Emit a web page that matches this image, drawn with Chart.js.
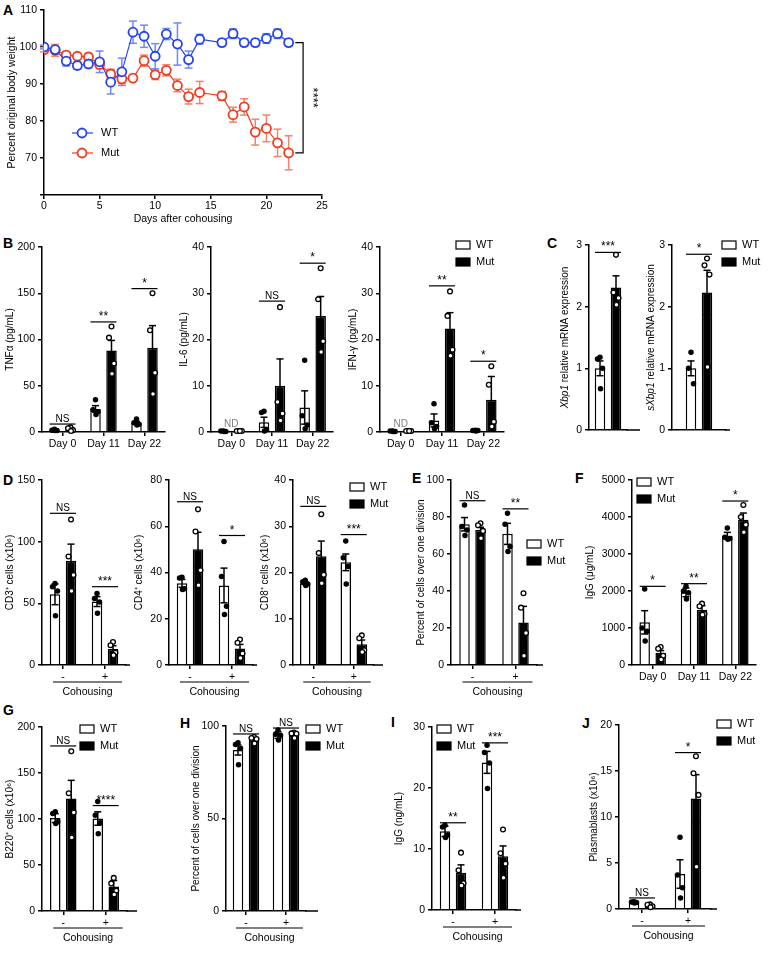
<!DOCTYPE html>
<html>
<head>
<meta charset="utf-8">
<title>Cohousing figure</title>
<script src="https://cdn.jsdelivr.net/npm/chart.js@4.4.1/dist/chart.umd.min.js"></script>
<style>
  html, body { margin: 0; padding: 0; background: #fff; }
  body { position: relative; width: 768px; height: 956px; overflow: hidden; font-family: "Liberation Sans", Arial, Helvetica, sans-serif; }
  canvas { position: absolute; }
  .tag { position: absolute; font-weight: bold; font-size: 14px; line-height: 14px; color: #000; }
</style>
</head>
<body>
<div class="tag" style="left:3px;top:3px">A</div>
<div class="tag" style="left:3px;top:236px">B</div>
<div class="tag" style="left:547px;top:236px">C</div>
<div class="tag" style="left:3px;top:473px">D</div>
<div class="tag" style="left:412px;top:471px">E</div>
<div class="tag" style="left:575px;top:471px">F</div>
<div class="tag" style="left:3px;top:703px">G</div>
<div class="tag" style="left:180px;top:716px">H</div>
<div class="tag" style="left:391px;top:715px">I</div>
<div class="tag" style="left:582px;top:716px">J</div>

<script>
// ---- A : body weight ----
const days = [0, 1, 2, 3, 4, 5, 6, 7, 8, 9, 10, 11, 12, 13, 14, 16, 17, 18, 19, 20, 21, 22];
const wtWeight = [100, 99.3, 96.2, 95.0, 95.4, 96.0, 90.5, 93.3, 104.0, 102.9, 97.5, 103.5, 100.8, 96.6, 102.1, 101.2, 103.6, 101.2, 101.2, 102.3, 103.6, 101.2];
const wtWeightErr = [0.5, 0.6, 1.3, 1.0, 1.0, 2.9, 3.2, 3.7, 3.0, 3.0, 3.4, 1.5, 5.7, 2.3, 1.3, 0.9, 1.3, 0.9, 0.9, 1.3, 1.3, 0.9];
const mutWeight = [99.3, 99.1, 97.8, 97.5, 97.3, 95.3, 92.7, 91.4, 91.6, 96.3, 92.5, 93.7, 89.6, 86.6, 87.7, 86.8, 81.7, 83.8, 77.0, 78.0, 74.1, 71.4];
const mutWeightErr = [0.6, 1.6, 1.0, 0.8, 1.0, 1.2, 1.3, 1.3, 0.5, 1.5, 1.3, 1.5, 1.7, 2.0, 3.0, 1.2, 2.0, 2.2, 3.5, 3.6, 3.7, 4.6];

// ---- tick labels ----
const dayLabels = ["Day 0", "Day 11", "Day 22"];
const cohLabels = ["-", "+"];
const oneLabel = [""];

// ---- B : cytokines ----
const tnfWT = [2, 25, 10];
const tnfWTErr = [1, 3.5, 1.5];
const tnfWTPts = [[3, 2, 1.5, 1.5], [35, 24, 22, 19], [14, 10, 8.5, 7.5]];
const tnfMut = [3, 88, 91];
const tnfMutErr = [1, 11, 24];
const tnfMutPts = [[5, 4, 2, 1], [114, 102, 74, 63], [150, 110, 64, 41]];
const tnfSig = ["NS", "**", "*"];
const tnfSigY = [8.6, 119, 155];

const il6WT = [0.15, 2.1, 5.3];
const il6WTErr = [0.05, 1.1, 3.6];
const il6WTPts = [[0.2, 0.2, 0.1, 0.1], [4.5, 4.2, 0.5, 0.2], [15.5, 3.5, 1.5, 0.7]];
const il6Mut = [0.15, 10, 25.1];
const il6MutErr = [0.05, 5.8, 4.2];
const il6MutPts = [[0.2, 0.2, 0.2, 0.2], [27, 6.5, 4, 2.5], [35.4, 28.7, 19.6, 17.3]];
const il6Sig = ["ND", "NS", "*"];
const il6SigY = [1.1, 28.3, 36.5];

const ifnWT = [0.15, 2.5, 0.3];
const ifnWTErr = [0.05, 1.4, 0.1];
const ifnWTPts = [[0.2, 0.2, 0.1, 0.1], [6.1, 2, 1.2, 0.7], [0.4, 0.3, 0.3, 0.2]];
const ifnMut = [0.15, 22.4, 7.0];
const ifnMutErr = [0.05, 3.4, 5.0];
const ifnMutPts = [[0.2, 0.2, 0.2, 0.2], [30.4, 25.1, 17.8, 16.5], [14.2, 10.2, 2.2, 1.2]];
const ifnSig = ["ND", "**", "*"];
const ifnSigY = [1.1, 31.6, 15.3];

// ---- C : Xbp1 ----
const xbpWT = [1.0];
const xbpWTErr = [0.12];
const xbpWTPts = [[1.18, 1.15, 1.0, 0.67]];
const xbpMut = [2.31];
const xbpMutErr = [0.19];
const xbpMutPts = [[2.84, 2.23, 2.14, 2.03]];
const xbpSig = ["***"];
const xbpSigY = [2.88];

const sxbWT = [1.0];
const sxbWTErr = [0.12];
const sxbWTPts = [[1.26, 1.0, 0.75]];
const sxbMut = [2.23];
const sxbMutErr = [0.36];
const sxbMutPts = [[2.78, 2.67, 2.52, 1.02]];
const sxbSig = ["*"];
const sxbSigY = [2.85];

// ---- D : T cells ----
const cd3WT = [57.3, 51.4];
const cd3WTErr = [8.4, 4.0];
const cd3WTPts = [[66, 63.5, 60, 40], [58, 54, 51, 42]];
const cd3Mut = [84.6, 13];
const cd3MutErr = [13.4, 2.6];
const cd3MutPts = [[118, 88, 73, 60], [18.6, 16, 10, 8]];
const cd3Sig = ["NS", "***"];
const cd3SigY = [123, 63.5];

const cd4WT = [35.3, 34.4];
const cd4WTErr = [1.7, 7.5];
const cd4WTPts = [[38, 37.6, 33, 32.6], [53.4, 38.3, 25.4, 21.8]];
const cd4Mut = [50.1, 7.1];
const cd4MutErr = [7.3, 1.8];
const cd4MutPts = [[67.3, 57.7, 41, 34.5], [11, 9.6, 5, 3]];
const cd4Sig = ["NS", "*"];
const cd4SigY = [70.6, 56];

const cd8WT = [17.7, 22.2];
const cd8WTErr = [0.3, 1.8];
const cd8WTPts = [[18.3, 18, 17.5, 17.2], [26.8, 23.2, 21.3, 17.5]];
const cd8Mut = [23.5, 4.5];
const cd8MutErr = [3.3, 0.9];
const cd8MutPts = [[32.6, 24.2, 19.5, 17.7], [6.4, 5.8, 3.2, 2.8]];
const cd8Sig = ["NS", "***"];
const cd8SigY = [34.3, 28.2];

// ---- E : T cell division ----
const divTWT = [76.1, 70.9];
const divTWTErr = [3.6, 5.7];
const divTWTPts = [[86.5, 74.8, 73, 70], [82, 76.1, 64, 61.3]];
const divTMut = [73, 23];
const divTMutErr = [1.5, 8.7];
const divTMutPts = [[76.6, 75.5, 72.5, 68.5], [38.8, 31, 17.3, 5]];
const divTSig = ["NS", "**"];
const divTSigY = [88.8, 84.4];

// ---- F : serum IgG ----
const serumWT = [1153, 1964, 3495];
const serumWTErr = [315, 117, 90];
const serumWTPts = [[2054, 1000, 910, 650], [2126, 2000, 1950, 1784], [3703, 3450, 3420, 3400]];
const serumMut = [330, 1495, 3927];
const serumMutErr = [60, 109, 180];
const serumMutPts = [[486, 441, 250, 150], [1658, 1586, 1380, 1360], [4324, 4000, 3793, 3590]];
const serumSig = ["*", "**", "*"];
const serumSigY = [2126, 2198, 4432];

// ---- G : B220 ----
const b220WT = [101, 100.5];
const b220WTErr = [4.8, 7.3];
const b220WTPts = [[107.8, 106, 97, 95], [119, 104, 96, 84]];
const b220Mut = [122.2, 26.5];
const b220MutErr = [19.8, 6.6];
const b220MutPts = [[173.6, 128, 107, 80], [36, 30, 22, 18]];
const b220Sig = ["NS", "****"];
const b220SigY = [179.4, 114.6];

// ---- H : B cell division ----
const divBWT = [87, 95.1];
const divBWTErr = [2.7, 1.8];
const divBWTPts = [[91, 90, 88, 79], [97.8, 95.5, 95, 92.4]];
const divBMut = [92.8, 95.5];
const divBMutErr = [1, 1];
const divBMutPts = [[94, 93.5, 93, 90.5], [96.5, 96, 95.8, 93.5]];
const divBSig = ["NS", "NS"];
const divBSigY = [95.7, 98.9];

// ---- I : IgG (culture) ----
const iggWT = [12.9, 24.2];
const iggWTErr = [0.85, 1.8];
const iggWTPts = [[13.9, 13.6, 12.3, 11.9], [27, 25.8, 24.1, 19.9]];
const iggMut = [6.1, 8.8];
const iggMutErr = [1.3, 1.7];
const iggMutPts = [[9.4, 6.5, 4.4, 4], [13.2, 9.3, 7.6, 5.3]];
const iggSig = ["**", "***"];
const iggSigY = [14.3, 27.4];

// ---- J : plasmablasts ----
const pbWT = [0.7, 3.8];
const pbWTErr = [0.05, 1.55];
const pbWTPts = [[0.8, 0.75, 0.7, 0.65], [7.8, 3.7, 2.3, 1.2]];
const pbMut = [0.35, 12.0];
const pbMutErr = [0.1, 2.6];
const pbMutPts = [[0.5, 0.45, 0.3, 0.2], [16.6, 14.75, 12.4, 4.6]];
const pbSig = ["NS", "*"];
const pbSigY = [1.2, 17];

// ---- style ----
const FONT = '"Liberation Sans", Arial, Helvetica, sans-serif';
Chart.defaults.font.family = FONT;
Chart.defaults.color = "#000";
const WT_C = "#2443f0";
const MUT_C = "#f23c1e";
const WT_ERR_C = "#6f88f6";
const MUT_ERR_C = "#f7806c";
const SEP = 16;      // distance between WT and Mut bar centres
const BAR_W = 10.5;
const Y_W = 58;      // room left of each y axis (ticks + title)
const JIT = [0, -2.5, 2.5, 0.5];

function seg(ctx, x1, y1, x2, y2) {
  ctx.beginPath();
  ctx.moveTo(x1, y1);
  ctx.lineTo(x2, y2);
  ctx.stroke();
}

// rotated axis title, parts = [[text, italic], ...]
function vText(ctx, parts, cx, cy, size) {
  ctx.save();
  ctx.translate(cx, cy);
  ctx.rotate(-Math.PI / 2);
  ctx.fillStyle = "#000";
  ctx.textAlign = "left";
  ctx.textBaseline = "middle";
  const fonts = parts.map((s) => (s[1] ? "italic " : "") + size + "px " + FONT);
  const widths = parts.map((s, i) => {
    ctx.font = fonts[i];
    return ctx.measureText(s[0]).width;
  });
  let x = -widths.reduce((a, b) => a + b, 0) / 2;
  parts.forEach((s, i) => {
    ctx.font = fonts[i];
    ctx.fillText(s[0], x, 0);
    x += widths[i];
  });
  ctx.restore();
}

function drawLegend(ctx, x, y) {
  [["WT", "#fff"], ["Mut", "#000"]].forEach((item, i) => {
    const yy = y + i * 17;
    ctx.fillStyle = item[1];
    ctx.fillRect(x, yy - 4, 14, 8);
    ctx.strokeStyle = "#000";
    ctx.lineWidth = 1.2;
    ctx.strokeRect(x, yy - 4, 14, 8);
    ctx.fillStyle = "#000";
    ctx.font = "11px " + FONT;
    ctx.textAlign = "left";
    ctx.textBaseline = "middle";
    ctx.fillText(item[0], x + 20, yy);
  });
}

function makeCanvas(left, top, w, h) {
  const c = document.createElement("canvas");
  c.width = w;
  c.height = h;
  c.style.left = left + "px";
  c.style.top = top + "px";
  c.style.width = w + "px";
  c.style.height = h + "px";
  document.body.appendChild(c);
  return c;
}

function axisLine() {
  return { color: "#000", width: 1.5 };
}

// ---- A ----
function drawWeight() {
  const cv = makeCanvas(0, 0, 330, 230);
  const marks = {
    id: "weightMarks",
    beforeDatasetsDraw(chart) {
      const { ctx, scales } = chart;
      [[wtWeight, wtWeightErr, WT_ERR_C], [mutWeight, mutWeightErr, MUT_ERR_C]].forEach(([m, e, col]) => {
        ctx.save();
        ctx.strokeStyle = col;
        ctx.lineWidth = 1.5;
        days.forEach((d, i) => {
          const px = scales.x.getPixelForValue(d);
          const t = scales.y.getPixelForValue(m[i] + e[i]);
          const b = scales.y.getPixelForValue(m[i] - e[i]);
          seg(ctx, px, t, px, b);
          seg(ctx, px - 4, t, px + 4, t);
          seg(ctx, px - 4, b, px + 4, b);
        });
        ctx.restore();
      });
    },
    afterDraw(chart) {
      const { ctx, scales, chartArea } = chart;
      const last = days.length - 1;
      ctx.save();
      // significance bracket
      const bx = scales.x.getPixelForValue(23.3);
      const tx = scales.x.getPixelForValue(22.6);
      const y1 = scales.y.getPixelForValue(wtWeight[last]);
      const y2 = scales.y.getPixelForValue(mutWeight[last]);
      ctx.strokeStyle = "#000";
      ctx.lineWidth = 1.2;
      ctx.beginPath();
      ctx.moveTo(tx, y1);
      ctx.lineTo(bx, y1);
      ctx.lineTo(bx, y2);
      ctx.lineTo(tx, y2);
      ctx.stroke();
      ctx.save();
      ctx.translate(bx + 9, (y1 + y2) / 2);
      ctx.rotate(Math.PI / 2);
      ctx.fillStyle = "#000";
      ctx.font = "13px " + FONT;
      ctx.textAlign = "center";
      ctx.textBaseline = "middle";
      ctx.fillText("****", 0, 0);
      ctx.restore();
      // legend
      [["WT", WT_C, 133], ["Mut", MUT_C, 153]].forEach(([lab, col, ly]) => {
        ctx.strokeStyle = col;
        ctx.lineWidth = 1.2;
        seg(ctx, 72, ly, 93, ly);
        ctx.beginPath();
        ctx.arc(82, ly, 4.5, 0, Math.PI * 2);
        ctx.fillStyle = "#fff";
        ctx.fill();
        ctx.lineWidth = 1.8;
        ctx.stroke();
        ctx.fillStyle = "#000";
        ctx.font = "11px " + FONT;
        ctx.textAlign = "left";
        ctx.textBaseline = "middle";
        ctx.fillText(lab, 101, ly);
      });
      // titles
      vText(ctx, [["Percent original body weight"]], 12, (chartArea.top + chartArea.bottom) / 2, 10.5);
      ctx.fillStyle = "#000";
      ctx.font = "10.5px " + FONT;
      ctx.textAlign = "center";
      ctx.textBaseline = "middle";
      ctx.fillText("Days after cohousing", (chartArea.left + chartArea.right) / 2, 219);
      ctx.restore();
    },
  };
  const line = (label, values, col) => ({
    label: label,
    data: days.map((d, i) => ({ x: d, y: values[i] })),
    borderColor: col,
    borderWidth: 1.2,
    pointBorderColor: col,
    pointBackgroundColor: "#fff",
    pointRadius: 4.5,
    pointBorderWidth: 1.8,
    tension: 0,
  });
  new Chart(cv, {
    type: "line",
    data: { datasets: [line("WT", wtWeight, WT_C), line("Mut", mutWeight, MUT_C)] },
    options: {
      responsive: false,
      animation: false,
      devicePixelRatio: 1,
      layout: { padding: { top: 10, right: 8, left: 0, bottom: 0 } },
      plugins: { legend: { display: false }, tooltip: { enabled: false } },
      scales: {
        x: {
          type: "linear",
          min: 0,
          max: 25,
          ticks: { stepSize: 5, font: { size: 10.5 }, padding: 1, maxRotation: 0 },
          grid: { drawOnChartArea: false, tickLength: 4, color: "#000", lineWidth: 1.5 },
          border: axisLine(),
          afterFit(s) { s.height = 35; },
        },
        y: {
          min: 60,
          max: 110,
          ticks: { stepSize: 10, font: { size: 10.5 }, padding: 3, callback: (v) => (v === 60 ? "" : v) },
          grid: { drawOnChartArea: false, tickLength: 4, color: "#000", lineWidth: 1.5 },
          border: axisLine(),
          afterFit(s) { s.width = 44; },
        },
      },
    },
    plugins: [marks],
  });
}

// ---- bar panels ----
function barPanel(p) {
  const left = p.x0 - Y_W;
  const top = p.yT - 20;
  const right = Math.max(p.x1, p.ext, p.legend ? p.legend[0] + 46 : 0) + 4;
  const w = right - left;
  const h = p.yB - top + 42;
  const cv = makeCanvas(left, top, w, h);
  const n = p.labels.length;
  const slot = (p.x1 - p.x0) / n;
  const ds = (label, data, bg) => ({
    label: label,
    data: data,
    backgroundColor: bg,
    borderColor: "#000",
    borderWidth: 1.5,
    categoryPercentage: (2 * SEP) / slot,
    barPercentage: BAR_W / SEP,
  });

  const marks = {
    id: "marks",
    afterDatasetsDraw(chart) {
      const ctx = chart.ctx;
      const ys = chart.scales.y;
      const wtBars = chart.getDatasetMeta(0).data;
      const mutBars = chart.getDatasetMeta(1).data;
      ctx.save();
      ctx.strokeStyle = "#000";
      ctx.lineWidth = 1.5;
      // error bars
      [[wtBars, p.wt, p.wtErr], [mutBars, p.mut, p.mutErr]].forEach(([bars, m, e]) => {
        bars.forEach((b, i) => {
          const t = ys.getPixelForValue(m[i] + e[i]);
          const lo = Math.max(0, m[i] - e[i]);
          const bt = ys.getPixelForValue(lo);
          seg(ctx, b.x, t, b.x, bt);
          seg(ctx, b.x - 3.5, t, b.x + 3.5, t);
          if (lo > 0) seg(ctx, b.x - 3.5, bt, b.x + 3.5, bt);
        });
      });
      // individual animals
      [[wtBars, p.wtPts, "#000", 2.1], [mutBars, p.mutPts, "#fff", 2.4]].forEach(([bars, pts, fill, r]) => {
        bars.forEach((b, i) => {
          pts[i].forEach((v, j) => {
            ctx.beginPath();
            ctx.arc(b.x + JIT[j % JIT.length], ys.getPixelForValue(v), r, 0, Math.PI * 2);
            ctx.fillStyle = fill;
            ctx.fill();
            ctx.lineWidth = 1.3;
            ctx.strokeStyle = "#000";
            ctx.stroke();
          });
        });
      });
      // significance
      ctx.textAlign = "center";
      ctx.textBaseline = "alphabetic";
      p.sig.forEach((s, i) => {
        if (!s) return;
        const yy = ys.getPixelForValue(p.sigY[i]);
        const cx = (wtBars[i].x + mutBars[i].x) / 2;
        if (s === "ND") {
          ctx.fillStyle = "#808080";
          ctx.font = "10px " + FONT;
          ctx.fillText(s, cx, yy);
          return;
        }
        ctx.strokeStyle = "#000";
        ctx.lineWidth = 1.2;
        seg(ctx, wtBars[i].x - 5, yy, mutBars[i].x + 5, yy);
        ctx.fillStyle = "#000";
        ctx.font = (s[0] === "*" ? "12px " : "10px ") + FONT;
        ctx.fillText(s, cx, yy - 2);
      });
      ctx.restore();
    },
    afterDraw(chart) {
      const ctx = chart.ctx;
      const area = chart.chartArea;
      const xs = chart.scales.x;
      ctx.save();
      ctx.strokeStyle = "#000";
      ctx.lineWidth = 1.5;
      if (p.ext > p.x1) seg(ctx, area.right - 1, area.bottom, p.ext - left, area.bottom);
      if (p.coh) {
        const a = xs.getPixelForValue(0) - 10;
        const b = xs.getPixelForValue(n - 1) + 17;
        ctx.lineWidth = 1.2;
        seg(ctx, a, area.bottom + 17, b, area.bottom + 17);
        ctx.fillStyle = "#000";
        ctx.font = "10.5px " + FONT;
        ctx.textAlign = "center";
        ctx.textBaseline = "middle";
        ctx.fillText("Cohousing", (a + b) / 2, area.bottom + 27);
      }
      vText(ctx, p.title, p.titleX - left, (area.top + area.bottom) / 2, 10);
      if (p.legend) drawLegend(ctx, p.legend[0] - left, p.legend[1] - top);
      ctx.restore();
    },
  };

  new Chart(cv, {
    type: "bar",
    data: {
      labels: p.labels,
      datasets: [ds("WT", p.wt, "#fff"), ds("Mut", p.mut, "#000")],
    },
    options: {
      responsive: false,
      animation: false,
      devicePixelRatio: 1,
      layout: { padding: { top: 20, right: right - p.x1, left: 0, bottom: 0 } },
      plugins: { legend: { display: false }, tooltip: { enabled: false } },
      scales: {
        x: {
          ticks: { font: { size: 10.5 }, padding: 2, maxRotation: 0, autoSkip: false },
          grid: { display: !p.noTicks, drawOnChartArea: false, offset: false, tickLength: 4, color: "#000", lineWidth: 1.5 },
          border: axisLine(),
          afterFit(s) { s.height = 42; },
        },
        y: {
          min: p.min,
          max: p.max,
          ticks: { stepSize: p.step, font: { size: 10.5 }, padding: 3, callback: (v) => v },
          grid: { drawOnChartArea: false, tickLength: 4, color: "#000", lineWidth: 1.5 },
          border: axisLine(),
          afterFit(s) { s.width = Y_W; },
        },
      },
    },
    plugins: [marks],
  });
}

const panels = [
  { labels: dayLabels, wt: tnfWT, wtErr: tnfWTErr, wtPts: tnfWTPts, mut: tnfMut, mutErr: tnfMutErr, mutPts: tnfMutPts,
    sig: tnfSig, sigY: tnfSigY, min: 0, max: 200, step: 50, title: [["TNFα (pg/mL)"]], titleX: 10,
    x0: 42, x1: 165, ext: 165, yT: 247, yB: 432 },
  { labels: dayLabels, wt: il6WT, wtErr: il6WTErr, wtPts: il6WTPts, mut: il6Mut, mutErr: il6MutErr, mutPts: il6MutPts,
    sig: il6Sig, sigY: il6SigY, min: 0, max: 40, step: 10, title: [["IL-6 (pg/mL)"]], titleX: 184,
    x0: 211, x1: 333, ext: 333, yT: 247, yB: 432 },
  { labels: dayLabels, wt: ifnWT, wtErr: ifnWTErr, wtPts: ifnWTPts, mut: ifnMut, mutErr: ifnMutErr, mutPts: ifnMutPts,
    sig: ifnSig, sigY: ifnSigY, min: 0, max: 40, step: 10, title: [["IFN-γ (pg/mL)"]], titleX: 353,
    x0: 380, x1: 504, ext: 504, yT: 247, yB: 432, legend: [456, 245] },
  { labels: oneLabel, wt: xbpWT, wtErr: xbpWTErr, wtPts: xbpWTPts, mut: xbpMut, mutErr: xbpMutErr, mutPts: xbpMutPts,
    sig: xbpSig, sigY: xbpSigY, min: 0, max: 3, step: 1, title: [["Xbp1", true], [" relative mRNA expression"]], titleX: 565,
    x0: 589, x1: 627, ext: 640, yT: 245, yB: 430, noTicks: true },
  { labels: oneLabel, wt: sxbWT, wtErr: sxbWTErr, wtPts: sxbWTPts, mut: sxbMut, mutErr: sxbMutErr, mutPts: sxbMutPts,
    sig: sxbSig, sigY: sxbSigY, min: 0, max: 3, step: 1, title: [["sXbp1", true], [" relative mRNA expression"]], titleX: 651,
    x0: 672, x1: 726, ext: 730, yT: 245, yB: 430, noTicks: true, legend: [722, 245] },
  { labels: cohLabels, wt: cd3WT, wtErr: cd3WTErr, wtPts: cd3WTPts, mut: cd3Mut, mutErr: cd3MutErr, mutPts: cd3MutPts,
    sig: cd3Sig, sigY: cd3SigY, min: 0, max: 150, step: 50, title: [["CD3⁺ cells (x10⁶)"]], titleX: 10,
    x0: 42, x1: 126, ext: 130, yT: 480, yB: 665, coh: true },
  { labels: cohLabels, wt: cd4WT, wtErr: cd4WTErr, wtPts: cd4WTPts, mut: cd4Mut, mutErr: cd4MutErr, mutPts: cd4MutPts,
    sig: cd4Sig, sigY: cd4SigY, min: 0, max: 80, step: 20, title: [["CD4⁺ cells (x10⁶)"]], titleX: 139,
    x0: 169, x1: 253, ext: 257, yT: 480, yB: 665, coh: true },
  { labels: cohLabels, wt: cd8WT, wtErr: cd8WTErr, wtPts: cd8WTPts, mut: cd8Mut, mutErr: cd8MutErr, mutPts: cd8MutPts,
    sig: cd8Sig, sigY: cd8SigY, min: 0, max: 40, step: 10, title: [["CD8⁺ cells (x10⁶)"]], titleX: 265,
    x0: 293, x1: 374, ext: 383, yT: 480, yB: 665, coh: true, legend: [350, 487] },
  { labels: cohLabels, wt: divTWT, wtErr: divTWTErr, wtPts: divTWTPts, mut: divTMut, mutErr: divTMutErr, mutPts: divTMutPts,
    sig: divTSig, sigY: divTSigY, min: 0, max: 100, step: 20, title: [["Percent of cells over one division"]], titleX: 421,
    x0: 451, x1: 537, ext: 543, yT: 480, yB: 665, coh: true, legend: [527, 544] },
  { labels: dayLabels, wt: serumWT, wtErr: serumWTErr, wtPts: serumWTPts, mut: serumMut, mutErr: serumMutErr, mutPts: serumMutPts,
    sig: serumSig, sigY: serumSigY, min: 0, max: 5000, step: 1000, title: [["IgG (μg/mL)"]], titleX: 590,
    x0: 632, x1: 756, ext: 756, yT: 480, yB: 665, legend: [637, 482] },
  { labels: cohLabels, wt: b220WT, wtErr: b220WTErr, wtPts: b220WTPts, mut: b220Mut, mutErr: b220MutErr, mutPts: b220MutPts,
    sig: b220Sig, sigY: b220SigY, min: 0, max: 200, step: 50, title: [["B220⁺ cells (x10⁶)"]], titleX: 10,
    x0: 42, x1: 127, ext: 137, yT: 727, yB: 911, coh: true, legend: [80, 729] },
  { labels: cohLabels, wt: divBWT, wtErr: divBWTErr, wtPts: divBWTPts, mut: divBMut, mutErr: divBMutErr, mutPts: divBMutPts,
    sig: divBSig, sigY: divBSigY, min: 0, max: 100, step: 50, title: [["Percent of cells over one division"]], titleX: 196,
    x0: 226, x1: 306, ext: 318, yT: 726, yB: 911, coh: true, legend: [306, 729] },
  { labels: cohLabels, wt: iggWT, wtErr: iggWTErr, wtPts: iggWTPts, mut: iggMut, mutErr: iggMutErr, mutPts: iggMutPts,
    sig: iggSig, sigY: iggSigY, min: 0, max: 30, step: 10, title: [["IgG (ng/mL)"]], titleX: 399,
    x0: 432, x1: 516, ext: 521, yT: 727, yB: 910, coh: true, legend: [437, 729] },
  { labels: cohLabels, wt: pbWT, wtErr: pbWTErr, wtPts: pbWTPts, mut: pbMut, mutErr: pbMutErr, mutPts: pbMutPts,
    sig: pbSig, sigY: pbSigY, min: 0, max: 20, step: 5, title: [["Plasmablasts (x10⁶)"]], titleX: 594,
    x0: 619, x1: 711, ext: 717, yT: 725, yB: 909, coh: true, legend: [717, 724] },
];

drawWeight();
panels.forEach(barPanel);
</script>
</body>
</html>
